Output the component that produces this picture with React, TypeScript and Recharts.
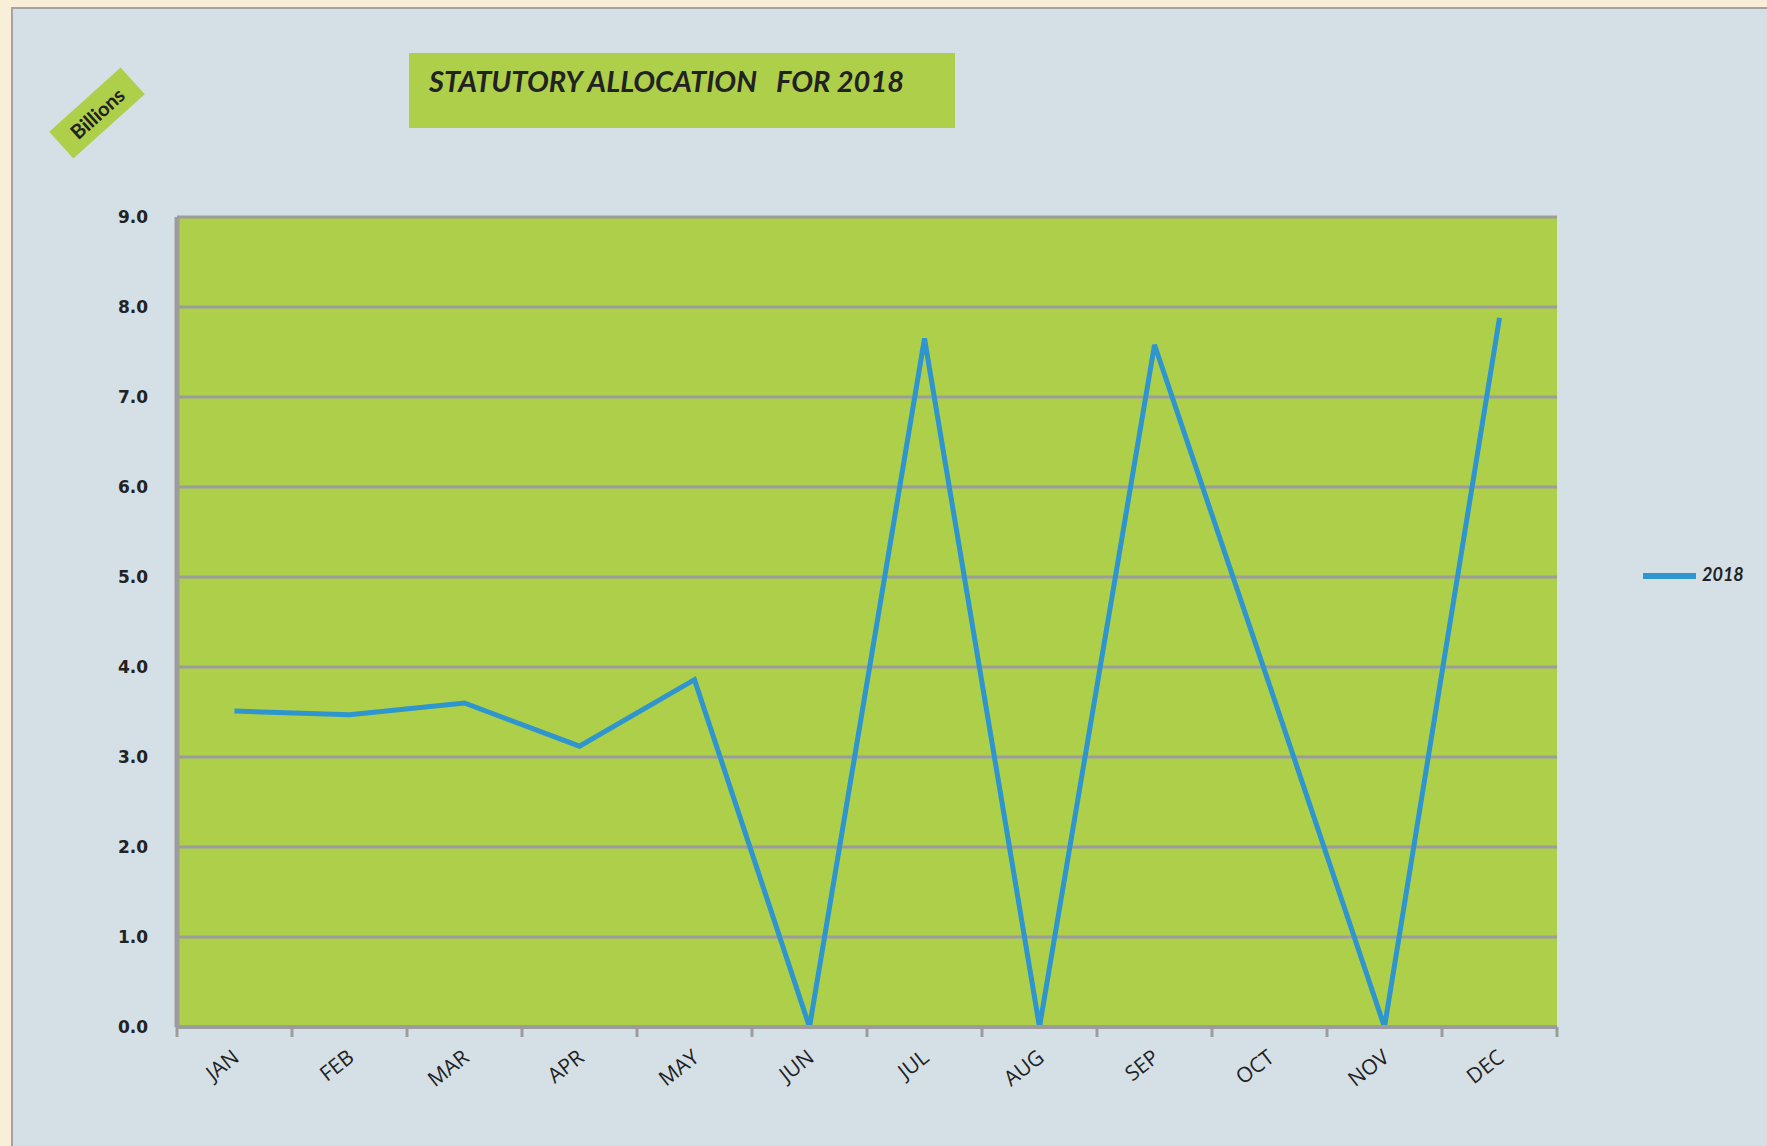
import React from "react";
import { LineChart, Line, XAxis, YAxis, CartesianGrid } from "recharts";

const months = ["JAN", "FEB", "MAR", "APR", "MAY", "JUN", "JUL", "AUG", "SEP", "OCT", "NOV", "DEC"];
const values2018 = [3.51, 3.47, 3.6, 3.12, 3.86, 0, 7.65, 0, 7.58, 3.8, 0, 7.88];
const yTicks = [0, 1, 2, 3, 4, 5, 6, 7, 8, 9];
const boundaryTicks = [0, 1, 2, 3, 4, 5, 6, 7, 8, 9, 10, 11, 12];
const centerTicks = months.map((_, i) => i + 0.5);
const seriesName = "2018";
const titleText = "STATUTORY ALLOCATION\u00a0\u00a0\u00a0FOR 2018";
const unitText = "Billions";

const data = months.map((m, i) => ({ pos: i + 0.5, month: m, value: values2018[i] }));

const GRID = "#9c9c9e";
const GREEN = "#aecf4a";
const BLUE = "#2e95cf";

const MonthTick = (props: any) => {
  const { x, y, payload } = props;
  const label = months[Math.floor(payload.value)] ?? "";
  return (
    <text
      x={x + 6}
      y={y}
      transform={`rotate(-38 ${x + 6} ${y})`}
      textAnchor="end"
      fontFamily="'Liberation Sans Narrow', 'Open Sans', sans-serif"
      fontSize={21}
      fill="#222"
    >
      {label}
    </text>
  );
};

export default function App() {
  return (
    <div style={{ position: "absolute", left: 0, top: 0, width: 1767, height: 1146, background: "#f9efd9", overflow: "hidden" }}>
      <div
        style={{
          position: "absolute",
          left: 11,
          top: 7,
          width: 1770,
          height: 1150,
          background: "#d5e0e6",
          borderLeft: "2px solid #a3a3a3",
          borderTop: "2px solid #a3a3a3",
        }}
      />
      <div style={{ position: "absolute", left: 0, top: 0 }}>
        <LineChart width={1767} height={1146} data={data} margin={{ top: 217, right: 210, left: 117, bottom: 47 }}>
          <CartesianGrid xAxisId="b" vertical={false} fill={GREEN} stroke={GRID} strokeWidth={3} horizontalValues={yTicks} />
          <XAxis
            xAxisId="b"
            type="number"
            dataKey="pos"
            domain={[0, 12]}
            ticks={boundaryTicks}
            tickFormatter={() => ""}
            tickSize={10}
            height={12}
            axisLine={{ stroke: GRID, strokeWidth: 4 }}
            tickLine={{ stroke: GRID, strokeWidth: 3 }}
            interval={0}
          />
          <XAxis
            xAxisId="l"
            type="number"
            dataKey="pos"
            domain={[0, 12]}
            ticks={centerTicks}
            height={60}
            axisLine={false}
            tickLine={false}
            tickSize={0}
            tickMargin={21}
            interval={0}
            tick={<MonthTick />}
          />
          <YAxis
            type="number"
            domain={[0, 9]}
            ticks={yTicks}
            width={60}
            interval={0}
            tickFormatter={(v: number) => v.toFixed(1)}
            axisLine={{ stroke: GRID, strokeWidth: 5 }}
            tickLine={false}
            tickSize={0}
            tickMargin={29}
            tick={{ fill: "#222", fontSize: 17, fontWeight: 700, fontFamily: "'DejaVu Sans', sans-serif" }}
          />
          <Line
            xAxisId="b"
            type="linear"
            dataKey="value"
            name={seriesName}
            stroke={BLUE}
            strokeWidth={5}
            dot={false}
            isAnimationActive={false}
          />
        </LineChart>
      </div>
      <div
        style={{
          position: "absolute",
          left: 409,
          top: 53,
          width: 546,
          height: 75,
          background: GREEN,
        }}
      >
        <div
          style={{
            position: "absolute",
            left: 20,
            top: 10,
            fontFamily: "Lato, 'Open Sans', sans-serif",
            fontWeight: 700,
            fontStyle: "italic",
            fontSize: 29,
            color: "#222",
            whiteSpace: "nowrap",
          }}
        >
          {titleText}
        </div>
      </div>
      <div
        style={{
          position: "absolute",
          left: 97 - 48,
          top: 113 - 18,
          width: 96,
          height: 36,
          background: GREEN,
          transform: "rotate(-42deg)",
          display: "flex",
          alignItems: "center",
          justifyContent: "center",
          fontFamily: "Lato, 'Open Sans', sans-serif",
          fontWeight: 700,
          fontSize: 20,
          color: "#222",
        }}
      >
        {unitText}
      </div>
      <div style={{ position: "absolute", left: 1643, top: 573, width: 53, height: 6, background: BLUE }} />
      <div
        style={{
          position: "absolute",
          left: 1702,
          top: 563,
          fontFamily: "Lato, 'Open Sans', sans-serif",
          fontWeight: 700,
          fontStyle: "italic",
          fontSize: 18,
          color: "#222",
        }}
      >
        {seriesName}
      </div>
    </div>
  );
}
